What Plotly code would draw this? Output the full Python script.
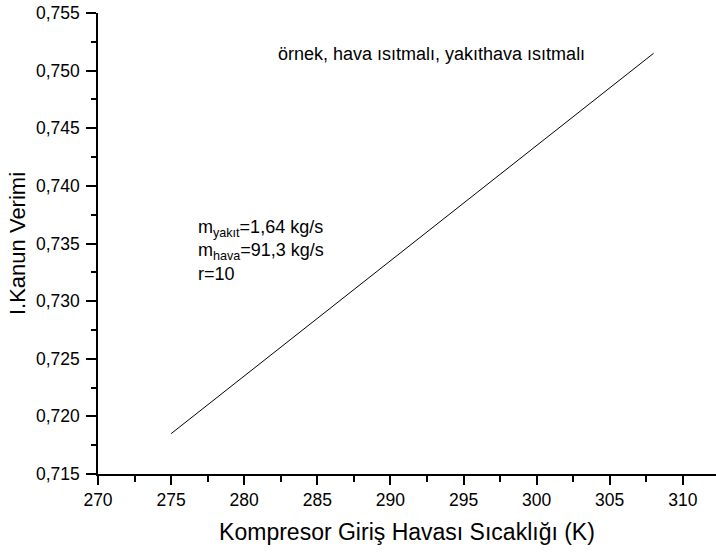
import plotly.graph_objects as go

temps = [275, 280, 285, 290, 295, 300, 305, 308]
efficiency = [0.7185, 0.7235, 0.7285, 0.7335, 0.7385, 0.7435, 0.7485, 0.7515]
x_ticks = [270, 275, 280, 285, 290, 295, 300, 305, 310]
y_ticks = [0.715, 0.720, 0.725, 0.730, 0.735, 0.740, 0.745, 0.750, 0.755]

FONT = "Liberation Sans, Arial, sans-serif"

fig = go.Figure()
fig.add_trace(go.Scatter(x=temps, y=efficiency, mode="lines",
                         line=dict(color="black", width=1), showlegend=False))

fig.add_annotation(x=282.2, y=0.7514, xref="x", yref="y", xanchor="left", yanchor="middle",
                   text="örnek, hava ısıtmalı, yakıthava ısıtmalı", showarrow=False,
                   font=dict(family=FONT, size=18, color="black"))
fig.add_annotation(x=276.7, y=0.7344, xref="x", yref="y", xanchor="left", yanchor="middle",
                   align="left",
                   text="m<sub>yakıt</sub>=1,64 kg/s<br>m<sub>hava</sub>=91,3 kg/s<br>r=10",
                   showarrow=False, font=dict(family=FONT, size=18, color="black"))

fig.update_layout(
    width=716, height=552,
    margin=dict(l=98, r=0, t=13, b=78),
    paper_bgcolor="white", plot_bgcolor="white",
    separators=",.",
    font=dict(family=FONT, size=17.5, color="black"),
    xaxis=dict(range=[270, 312.27], tickmode="array", tickvals=x_ticks,
               ticktext=[str(v) for v in x_ticks],
               showline=True, linecolor="black", linewidth=1.5,
               ticks="outside", ticklen=9, tickwidth=1.5, tickcolor="black",
               minor=dict(dtick=2.5, ticklen=6, tickwidth=1.5, tickcolor="black", ticks="outside"),
               showgrid=False, zeroline=False,
               title=dict(text="Kompresor Giriş Havası Sıcaklığı (K)", font=dict(size=23), standoff=15),
               tickfont=dict(size=17.5)),
    yaxis=dict(range=[0.715, 0.755], tickmode="array", tickvals=y_ticks,
               ticktext=[f"{v:.3f}".replace(".", ",") for v in y_ticks],
               showline=True, linecolor="black", linewidth=1.5,
               ticks="outside", ticklen=10, tickwidth=1.5, tickcolor="black",
               minor=dict(dtick=0.0025, ticklen=5, tickwidth=1.5, tickcolor="black", ticks="outside"),
               showgrid=False, zeroline=False, ticklabelstandoff=3,
               title=dict(text="I.Kanun Verimi", font=dict(size=22), standoff=4),
               tickfont=dict(size=17.5)),
)

fig.write_html("out.html")
